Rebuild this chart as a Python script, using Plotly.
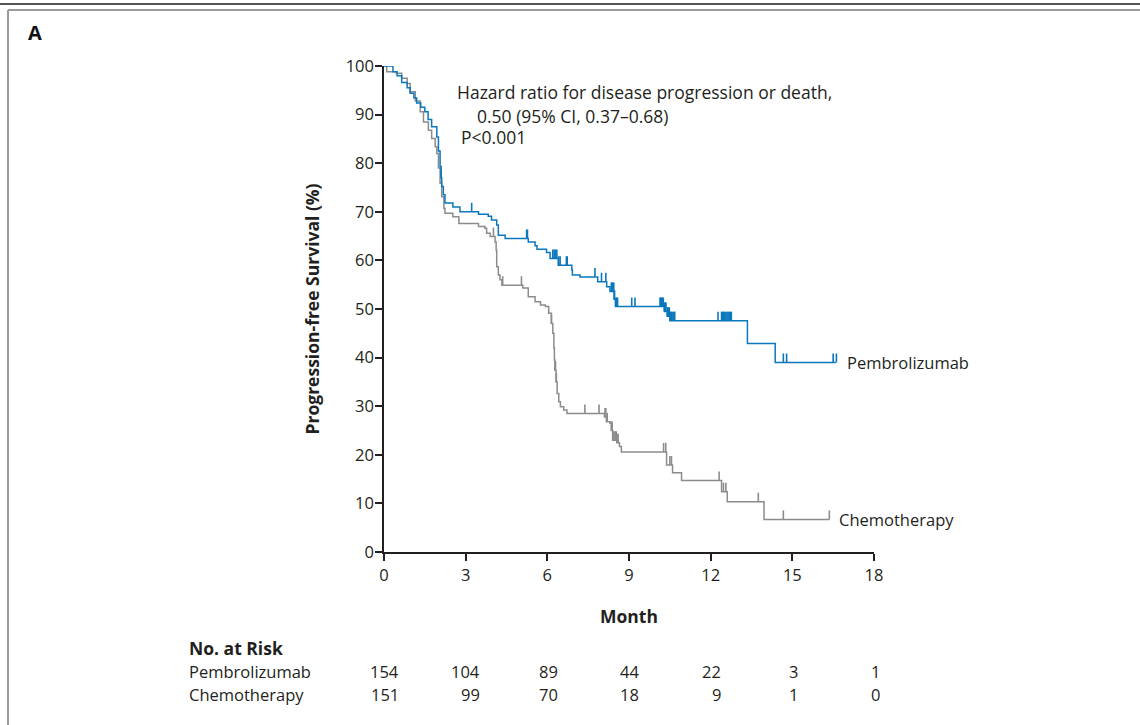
import plotly.graph_objects as go

# ---------------- data ----------------
pembro_times = [0, 0.33, 0.48, 0.65, 0.85, 0.96, 1.1, 1.2, 1.35, 1.5, 1.62, 1.75, 1.94, 2.0, 2.06,
                2.1, 2.12, 2.18, 2.24, 2.53, 2.79, 3.47, 3.83, 3.95, 4.14, 4.2, 4.45, 5.3, 5.55,
                5.62, 5.97, 6.1, 6.4, 6.9, 6.92, 7.2, 7.85, 8.18, 8.3, 8.45, 8.5, 10.3, 10.4,
                10.5, 13.35, 14.37]
pembro_surv = [100, 98.8, 98.0, 96.6, 95.5, 94.4, 93.4, 92.4, 91.5, 90.6, 89.0, 87.5, 85.4, 82.5, 79.3,
               77.0, 75.2, 73.5, 71.8, 71.0, 70.0, 69.5, 69.1, 68.3, 67.3, 65.2, 64.5, 63.8, 63.0,
               62.3, 61.6, 60.4, 59.0, 58.0, 57.0, 56.6, 55.6, 54.6, 53.6, 52.0, 50.5, 49.5, 48.5,
               47.6, 42.9, 39.0]
pembro_end = 16.6
pembro_censor = [0.1, 0.13, 0.16, 0.19, 0.22, 0.25, 0.28, 0.31, 2.1, 3.22, 5.24, 5.27, 6.2, 6.25,
                 6.3, 6.35, 6.42, 6.47, 6.7, 6.73, 7.75, 7.99, 8.15, 8.35, 8.38, 8.41, 8.44, 8.47,
                 8.52, 8.55, 8.58, 9.1, 9.22, 10.14, 10.17, 10.2, 10.23, 10.26, 10.3, 10.33, 10.36,
                 10.42, 10.45, 10.48, 10.52, 10.55, 10.58, 10.62, 10.65, 10.68, 12.27, 12.4, 12.44,
                 12.48, 12.52, 12.56, 12.6, 12.64, 12.68, 12.72, 12.76, 14.67, 14.79, 16.5, 16.62]

chemo_times = [0, 0.1, 0.45, 0.65, 0.85, 0.96, 1.15, 1.33, 1.45, 1.63, 1.75, 1.88, 1.94, 2.0, 2.06,
               2.12, 2.2, 2.24, 2.53, 2.75, 3.47, 3.71, 3.77, 3.9, 4.08, 4.12, 4.14, 4.2, 4.26,
               4.33, 5.1, 5.3, 5.55, 5.75, 5.93, 6.05, 6.15, 6.2, 6.24, 6.26, 6.28, 6.32, 6.36,
               6.42, 6.48, 6.6, 6.72, 8.1, 8.17, 8.3, 8.35, 8.4, 8.55, 8.65, 8.72, 10.38, 10.6,
               10.93, 12.4, 12.61, 13.96]
chemo_surv = [100, 98.8, 98.5, 97.5, 96.4, 94.7, 92.8, 90.6, 88.5, 86.8, 85.1, 83.4, 82.0, 79.0, 75.9,
              73.1, 70.7, 69.7, 69.0, 67.6, 67.0, 66.6, 65.6, 64.9, 63.8, 62.1, 58.7, 57.0, 56.0,
              54.9, 54.3, 52.5, 51.5, 50.8, 50.5, 49.1, 47.0, 45.0, 42.0, 39.5, 37.4, 35.0, 32.6,
              30.9, 29.9, 29.2, 28.5, 27.8, 26.8, 26.5, 25.0, 23.0, 22.5, 21.7, 20.6, 17.9, 16.3,
              14.7, 12.4, 10.35, 6.7]
chemo_end = 16.36
chemo_censor = [4.02, 4.36, 5.05, 6.15, 6.28, 6.3, 6.33, 7.38, 7.9, 8.12, 8.15, 8.2, 8.36, 8.38,
                8.42, 8.45, 8.5, 8.53, 8.56, 8.6, 10.27, 10.35, 10.5, 10.56, 12.31, 12.47, 12.56,
                13.75, 14.67, 16.36]

month_ticks = [0, 3, 6, 9, 12, 15, 18]
surv_ticks = [0, 10, 20, 30, 40, 50, 60, 70, 80, 90, 100]
risk_groups = ["Pembrolizumab", "Chemotherapy"]
risk_pembro = [154, 104, 89, 44, 22, 3, 1]
risk_chemo = [151, 99, 70, 18, 9, 1, 0]

BLUE = "#0b77bd"
GRAY = "#8c8c8c"
FONT = "Open Sans"
TXT = "#231f20"
FS = 16.5
FSB = 17.5
TICK_PX = 9.0  # height of censor tick in pixels


def surv_at(times, surv, t):
    s = surv[0]
    for ti, si in zip(times, surv):
        if ti <= t:
            s = si
    return s


W, H = 1140, 725
L, R, T, B = 384, 874, 66, 552
px_per_pct = (B - T) / 100.0

fig = go.Figure()
for times, surv, end, cens, col in [
    (chemo_times, chemo_surv, chemo_end, chemo_censor, GRAY),
    (pembro_times, pembro_surv, pembro_end, pembro_censor, BLUE),
]:
    fig.add_trace(go.Scatter(x=times + [end], y=surv + [surv[-1]], mode="lines",
                             line=dict(color=col, width=1.5, shape="hv"),
                             showlegend=False, hoverinfo="skip"))
    # censor ticks: line-ns markers (length = 1.4*size), lifted so they rise from the curve
    cy = [surv_at(times, surv, c) + (TICK_PX / 2) / px_per_pct for c in cens]
    fig.add_trace(go.Scatter(x=cens, y=cy, mode="markers",
                             marker=dict(symbol="line-ns", size=TICK_PX / 1.4, color=col,
                                         line=dict(color=col, width=1.6)),
                             cliponaxis=False, showlegend=False, hoverinfo="skip"))


def fx(px):
    return (px - L) / (R - L)


def fy(py):
    return 1 - (py - T) / (B - T)


fig.update_layout(
    width=W, height=H,
    margin=dict(l=L, r=W - R, t=T, b=H - B),
    paper_bgcolor="white", plot_bgcolor="white",
    font=dict(family=FONT, size=FS, color=TXT),
    xaxis=dict(range=[0, 18], tickvals=month_ticks, ticks="outside", ticklen=7, tickwidth=1.5,
               tickcolor=TXT, showline=True, linecolor=TXT, linewidth=1.5, showgrid=False,
               zeroline=False, tickfont=dict(size=FS, family=FONT, color=TXT),
               title=dict(text="<b>Month</b>", font=dict(size=FSB, family=FONT, color=TXT), standoff=26)),
    yaxis=dict(range=[0, 100], tickvals=surv_ticks, ticks="outside", ticklen=7, tickwidth=1.5,
               tickcolor=TXT, showline=True, linecolor=TXT, linewidth=1.5, showgrid=False,
               zeroline=False, tickfont=dict(size=FS, family=FONT, color=TXT),
               ticklabelstandoff=-2,
               title=dict(text="<b>Progression-free Survival (%)</b>",
                          font=dict(size=FSB, family=FONT, color=TXT), standoff=22)),
)

ann = []
ann.append(dict(text="<b>A</b>", x=fx(26), y=fy(33), xref="paper", yref="paper",
                xanchor="left", yanchor="middle", showarrow=False, font=dict(size=20, color="#111")))
hr_lines = [("Hazard ratio for disease progression or death,", 455, 92),
            ("0.50 (95% CI, 0.37\u20130.68)", 475, 116),
            ("P<0.001", 459, 137)]
for t, px, py in hr_lines:
    ann.append(dict(text=t, x=fx(px), y=fy(py), xref="paper", yref="paper",
                    xanchor="left", yanchor="middle", showarrow=False, font=dict(size=17.5)))
ann.append(dict(text="Pembrolizumab", x=pembro_end, y=pembro_surv[-1], xref="x", yref="y",
                xanchor="left", yanchor="middle", xshift=9, showarrow=False, font=dict(size=FS)))
ann.append(dict(text="Chemotherapy", x=chemo_end, y=chemo_surv[-1], xref="x", yref="y",
                xanchor="left", yanchor="middle", xshift=8, showarrow=False, font=dict(size=FS)))
ann.append(dict(text="<b>No. at Risk</b>", x=fx(187), y=fy(648), xref="paper", yref="paper",
                showarrow=False, xanchor="left", yanchor="middle", font=dict(size=FSB)))
for i, g in enumerate(risk_groups):
    ann.append(dict(text=g, x=fx(187), y=fy(671 + 23 * i), xref="paper", yref="paper",
                    showarrow=False, xanchor="left", yanchor="middle", font=dict(size=FS)))
for m, p, c in zip(month_ticks, risk_pembro, risk_chemo):
    half = len(str(p)) * 4.6 + 3
    for val, py in [(p, 671), (c, 694)]:
        ann.append(dict(text=str(val), x=m, y=fy(py), xref="x", yref="paper", showarrow=False,
                        xanchor="right", yanchor="middle", xshift=half, font=dict(size=FS)))
fig.update_layout(annotations=ann)

shapes = [
    dict(type="line", xref="paper", yref="paper", x0=fx(0), x1=fx(W),
         y0=fy(4), y1=fy(4), line=dict(color="#555555", width=2)),
    dict(type="line", xref="paper", yref="paper", x0=fx(8), x1=fx(W),
         y0=fy(10), y1=fy(10), line=dict(color="#9a9a9a", width=2)),
    dict(type="line", xref="paper", yref="paper", x0=fx(8), x1=fx(8),
         y0=fy(10), y1=fy(H + 2), line=dict(color="#9a9a9a", width=2)),
]
fig.update_layout(shapes=shapes)

fig.write_html("out.html", config={"displayModeBar": False},
               post_script="document.body.style.margin='0px';document.body.style.overflow='hidden';")
